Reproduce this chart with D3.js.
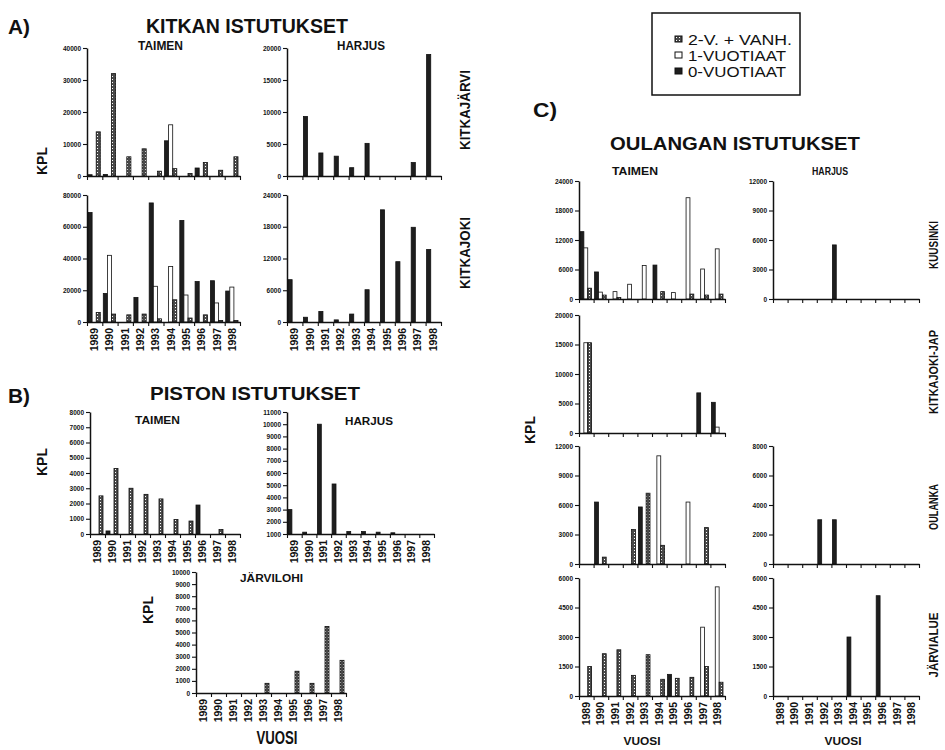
<!DOCTYPE html>
<html>
<head>
<meta charset="utf-8">
<script src="https://cdn.jsdelivr.net/npm/d3@7"></script>
<style>
  body { margin: 0; background: #fff; }
  svg { display: block; }
  text { font-family: "Liberation Sans", Arial, sans-serif; font-weight: bold; fill: #111; }
  .axis path, .axis line { stroke: #111; }
  .axis path { stroke-width: 1.5; }
  .axis line { stroke-width: 1.1; }
  .axis text { font-size: 6.5px; }
</style>
</head>
<body>
<div id="chart"></div>
<script>
// years on every x axis
var years = [1989, 1990, 1991, 1992, 1993, 1994, 1995, 1996, 1997, 1998];
var legendLabels = ["2-V. + VANH.", "1-VUOTIAAT", "0-VUOTIAAT"];

// A) KITKAN ISTUTUKSET  (0 = 0-vuotiaat, 1 = 1-vuotiaat, 2 = 2-v. + vanh.)
var kitkajarviTaimen0 = [400, 500, 0, 0, 0, 11000, 0, 2500, 0, 0];
var kitkajarviTaimen1 = [0, 0, 0, 0, 0, 16000, 0, 0, 0, 0];
var kitkajarviTaimen2 = [13800, 32000, 6000, 8500, 1500, 2300, 800, 4200, 1800, 6000];
var kitkajarviHarjus0 = [0, 9300, 3600, 3100, 1300, 5100, 0, 0, 2100, 19000];
var kitkajokiTaimen0 = [69000, 18000, 0, 15500, 75000, 0, 64000, 25500, 26000, 19500];
var kitkajokiTaimen1 = [0, 42000, 0, 0, 22500, 35000, 17000, 0, 12000, 22000];
var kitkajokiTaimen2 = [6000, 5000, 4500, 5000, 2000, 14000, 2500, 4500, 1000, 1000];
var kitkajokiHarjus0 = [8000, 900, 2000, 400, 1500, 6100, 21200, 11400, 17900, 13700];

// B) PISTON ISTUTUKSET
var pistoTaimen0 = [0, 200, 0, 0, 0, 0, 0, 1900, 0, 0];
var pistoTaimen2 = [2500, 4300, 3000, 2600, 2300, 950, 850, 0, 300, 0];
var pistoHarjus0 = [3000, 1150, 10000, 5100, 1200, 1200, 1150, 1100, 0, 0];
var pistoJarvilohi2 = [0, 0, 0, 0, 800, 0, 1800, 800, 5500, 2700];

// C) OULANGAN ISTUTUKSET
var kuusinkiTaimen0 = [13700, 5500, 0, 0, 0, 6900, 0, 0, 0, 0];
var kuusinkiTaimen1 = [10400, 1400, 1500, 3000, 6800, 0, 1300, 20600, 6100, 10200];
var kuusinkiTaimen2 = [2200, 800, 300, 0, 0, 1500, 0, 1000, 800, 1000];
var kuusinkiHarjus0 = [0, 0, 0, 0, 5500, 0, 0, 0, 0, 0];
var japTaimen0 = [0, 0, 0, 0, 0, 0, 0, 0, 6800, 5200];
var japTaimen1 = [15300, 0, 0, 0, 0, 0, 0, 0, 0, 1000];
var japTaimen2 = [15300, 0, 0, 0, 0, 0, 0, 0, 0, 0];
var oulankaTaimen0 = [0, 6300, 0, 0, 5800, 0, 0, 0, 0, 0];
var oulankaTaimen1 = [0, 0, 0, 0, 0, 11000, 0, 6300, 0, 0];
var oulankaTaimen2 = [0, 700, 0, 3500, 7200, 1900, 0, 0, 3700, 0];
var oulankaHarjus0 = [0, 0, 0, 3000, 3000, 0, 0, 0, 0, 0];
var jarvialueTaimen0 = [0, 0, 0, 0, 0, 0, 1100, 0, 0, 0];
var jarvialueTaimen1 = [0, 0, 0, 0, 0, 0, 0, 0, 3500, 5550];
var jarvialueTaimen2 = [1500, 2150, 2350, 1050, 2100, 850, 900, 950, 1500, 700];
var jarvialueHarjus0 = [0, 0, 0, 0, 0, 3000, 0, 5100, 0, 0];

var none = [0, 0, 0, 0, 0, 0, 0, 0, 0, 0];

// panel frames: x0/x1 = x axis, top/base = y range
var panels = [
  {x0: 87, x1: 240, top: 48, base: 176, max: 40000, step: 10000, s: [kitkajarviTaimen0, kitkajarviTaimen1, kitkajarviTaimen2]},
  {x0: 287, x1: 441, top: 48, base: 176, max: 20000, step: 5000, s: [kitkajarviHarjus0, none, none]},
  {x0: 87, x1: 240, top: 195, base: 322, max: 80000, step: 20000, s: [kitkajokiTaimen0, kitkajokiTaimen1, kitkajokiTaimen2], years: true},
  {x0: 287, x1: 441, top: 195, base: 322, max: 24000, step: 6000, s: [kitkajokiHarjus0, none, none], years: true},

  {x0: 90, x1: 240, top: 412, base: 534, max: 8000, step: 1000, s: [pistoTaimen0, none, pistoTaimen2], years: true},
  {x0: 287, x1: 434, top: 412, base: 534, min: 1000, max: 11000, step: 1000, s: [pistoHarjus0, none, none], years: true},
  {x0: 196, x1: 346, top: 572, base: 693, max: 10000, step: 1000, s: [none, none, pistoJarvilohi2], years: true},

  {x0: 579, x1: 725, top: 181, base: 299, max: 24000, step: 6000, s: [kuusinkiTaimen0, kuusinkiTaimen1, kuusinkiTaimen2]},
  {x0: 773, x1: 919, top: 181, base: 299, max: 12000, step: 3000, s: [kuusinkiHarjus0, none, none]},
  {x0: 579, x1: 725, top: 315, base: 433, max: 20000, step: 5000, s: [japTaimen0, japTaimen1, japTaimen2]},
  {x0: 579, x1: 725, top: 446, base: 564, max: 12000, step: 3000, s: [oulankaTaimen0, oulankaTaimen1, oulankaTaimen2]},
  {x0: 773, x1: 919, top: 446, base: 564, max: 8000, step: 2000, s: [oulankaHarjus0, none, none]},
  {x0: 579, x1: 725, top: 578, base: 696, max: 6000, step: 1500, s: [jarvialueTaimen0, jarvialueTaimen1, jarvialueTaimen2], years: true},
  {x0: 773, x1: 919, top: 578, base: 696, max: 6000, step: 1500, s: [jarvialueHarjus0, none, none], years: true}
];

var W = 945, H = 750;
var svg = d3.select("#chart").append("svg").attr("width", W).attr("height", H);

// dotted fill for 2-v. + vanh.
var pat = svg.append("defs").append("pattern")
  .attr("id", "dots").attr("width", 3).attr("height", 3)
  .attr("patternUnits", "userSpaceOnUse");
pat.append("rect").attr("width", 3).attr("height", 3).attr("fill", "#4a4a4a");
pat.append("rect").attr("x", 1).attr("y", 1).attr("width", 1).attr("height", 1).attr("fill", "#fff");

var fills = ["#1e1e1e", "#fff", "url(#dots)"];

var drawPanel = function(p) {
  var min = p.min || 0;
  var g = svg.append("g");
  var ys = d3.scaleLinear().domain([min, p.max]).range([p.base, p.top]);
  var xb = d3.scaleBand().domain(years).range([p.x0, p.x1]);
  var xs = d3.scaleBand().domain([0, 1, 2]).range([1, xb.bandwidth() - 2]);

  p.s.forEach(function(series, k) {
    g.append("g").selectAll("rect")
      .data(series.map(function(v, i) { return {year: years[i], v: v}; })
        .filter(function(d) { return d.v > min; }))
      .enter().append("rect")
        .attr("x", function(d) { return xb(d.year) + xs(k); })
        .attr("width", xs.bandwidth())
        .attr("y", function(d) { return ys(d.v); })
        .attr("height", function(d) { return p.base - ys(d.v); })
        .attr("fill", fills[k])
        .attr("stroke", "#111")
        .attr("stroke-width", 0.8);
  });

  g.append("g").attr("class", "axis")
    .attr("transform", "translate(" + p.x0 + ",0)")
    .call(d3.axisLeft(ys)
      .tickValues(d3.range(min, p.max + 1, p.step))
      .tickSize(4).tickSizeOuter(0).tickPadding(2)
      .tickFormat(d3.format("d")));

  var xi = d3.scaleLinear().domain([0, years.length]).range([p.x0, p.x1]);
  g.append("g").attr("class", "axis")
    .attr("transform", "translate(0," + p.base + ")")
    .call(d3.axisBottom(xi).tickValues(d3.range(0, years.length + 1))
      .tickSize(4).tickSizeOuter(0).tickFormat(""));

  if (p.years) {
    g.append("g").selectAll("text")
      .data(years).enter().append("text")
        .attr("transform", function(d) {
          return "translate(" + (xb(d) + xb.bandwidth() / 2 + 3.5) + "," + (p.base + 6) + ") rotate(-90)";
        })
        .attr("text-anchor", "end")
        .style("font-size", "10.5px")
        .text(function(d) { return d; });
  }
};
panels.forEach(drawPanel);

// text helper
var label = function(x, y, txt, size, o) {
  o = o || {};
  var t = svg.append("text")
    .attr("x", o.rot ? 0 : x).attr("y", o.rot ? 0 : y)
    .attr("text-anchor", o.anchor || "start")
    .style("font-size", size + "px")
    .text(txt);
  if (o.rot) t.attr("transform", "translate(" + x + "," + y + ") rotate(-90)");
  if (o.len) t.attr("textLength", o.len).attr("lengthAdjust", "spacingAndGlyphs");
  if (o.normal) t.style("font-weight", "normal");
  return t;
};

// A
label(8, 34, "A)", 20, {len: 22});
label(146, 33, "KITKAN ISTUTUKSET", 20, {len: 202});
label(138, 50, "TAIMEN", 12, {len: 45});
label(337, 50, "HARJUS", 12, {len: 48});
label(47, 161, "KPL", 14, {rot: true, anchor: "middle"});
label(470, 110, "KITKAJÄRVI", 14, {rot: true, anchor: "middle", len: 80});
label(470, 253, "KITKAJOKI", 14, {rot: true, anchor: "middle", len: 72});

// B
label(8, 403, "B)", 20, {len: 22});
label(150, 400, "PISTON ISTUTUKSET", 19, {len: 210});
label(135, 424, "TAIMEN", 11, {len: 45});
label(345, 425, "HARJUS", 11, {len: 48});
label(47, 462, "KPL", 14, {rot: true, anchor: "middle"});
label(240, 582, "JÄRVILOHI", 11, {len: 63});
label(153, 610, "KPL", 14, {rot: true, anchor: "middle"});
label(277, 744, "VUOSI", 18, {anchor: "middle", len: 41});

// C
label(533, 117, "C)", 20, {len: 24});
label(610, 150, "OULANGAN ISTUTUKSET", 19, {len: 250});
label(612, 175, "TAIMEN", 11, {len: 46});
label(812, 175, "HARJUS", 10, {len: 36});
label(535, 430, "KPL", 14, {rot: true, anchor: "middle"});
label(938, 245, "KUUSINKI", 12, {rot: true, anchor: "middle", len: 48});
label(938, 372, "KITKAJOKI-JAP", 12, {rot: true, anchor: "middle", len: 84});
label(938, 507, "OULANKA", 12, {rot: true, anchor: "middle", len: 46});
label(938, 645, "JÄRVIALUE", 12, {rot: true, anchor: "middle", len: 65});
label(642, 745, "VUOSI", 11, {anchor: "middle", len: 37});
label(843, 745, "VUOSI", 11, {anchor: "middle", len: 37});

// legend
svg.append("rect").attr("x", 652).attr("y", 13).attr("width", 148).attr("height", 82)
  .attr("fill", "none").attr("stroke", "#111").attr("stroke-width", 1.5);
var legendFill = ["url(#dots)", "#fff", "#1e1e1e"];
var legendLen = [104, 98, 98];
legendLabels.forEach(function(t, i) {
  var by = 45 + i * 16;
  svg.append("rect").attr("x", 675).attr("y", by - 9).attr("width", 7).attr("height", 6)
    .attr("fill", legendFill[i]).attr("stroke", "#111").attr("stroke-width", 1);
  label(688, by, t, 14, {len: legendLen[i], normal: true});
});
</script>
</body>
</html>
